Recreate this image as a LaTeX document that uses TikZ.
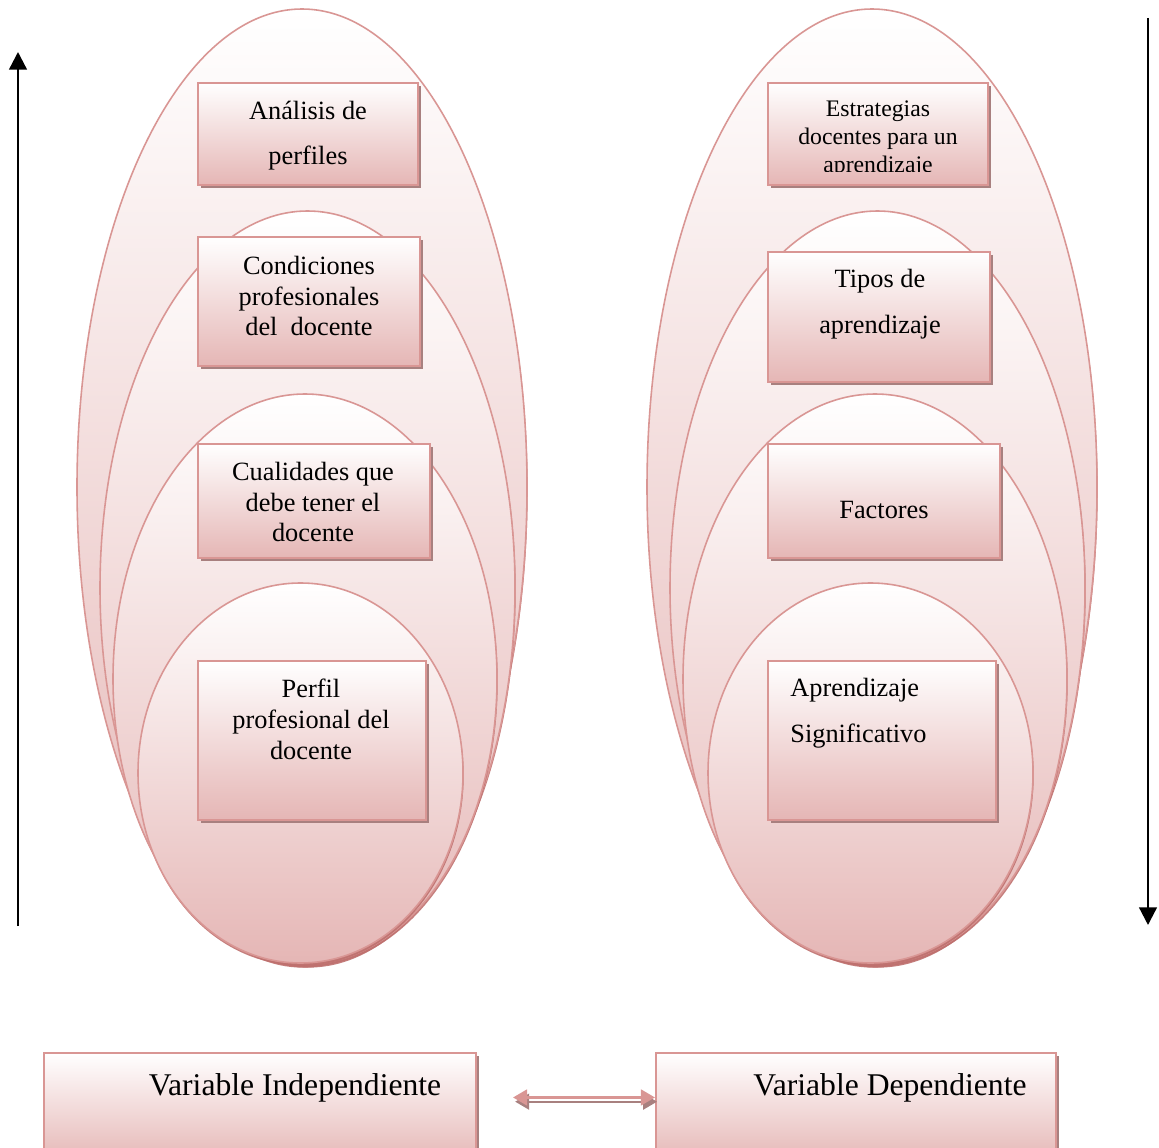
\documentclass[tikz,border=0pt]{standalone}
\usepackage{fontspec}
\setmainfont{Liberation Serif}
\usetikzlibrary{arrows.meta}
\usetikzlibrary{shadows}
\usetikzlibrary{positioning}
\definecolor{rosaborde}{RGB}{217,150,148}
\definecolor{rosafondo}{RGB}{229,182,181}
\definecolor{rosasombra}{RGB}{190,112,110}
\definecolor{grissombra}{RGB}{168,128,127}

\begin{document}
\begin{tikzpicture}[x=0.02cm,y=-0.02cm,
		ovalo/.style={draw=rosaborde,line width=0.9pt,top color=white,bottom color=rosafondo,
			drop shadow={shadow xshift=0.4pt,shadow yshift=-1.5pt,fill=rosasombra,opacity=0.9}},
		caja/.style={rectangle,draw=rosaborde,line width=1.2pt,top color=white,bottom color=rosafondo,inner sep=0pt,
			drop shadow={shadow xshift=1.7pt,shadow yshift=-1.7pt,fill=grissombra,opacity=1}},
		tam/.style 2 args={minimum width=#1*0.02cm,minimum height=#2*0.02cm},
		texto/.style={align=center,inner sep=0pt,font=\fontsize{15}{17.6}\selectfont},
		textodoble/.style={align=center,inner sep=0pt,font=\fontsize{15}{26}\selectfont},
		textochico/.style={align=center,inner sep=0pt,font=\fontsize{13.5}{16}\selectfont},
		textogrande/.style={inner sep=0pt,font=\fontsize{18}{21}\selectfont},
		flechanegra/.style={line width=1.3pt,-{Triangle[width=10pt,length=10pt]}},
		flecharosa/.style={draw=rosaborde,line width=1.3pt,{Triangle[width=9pt,length=8pt]}-{Triangle[width=9pt,length=8pt]}}]
	\useasboundingbox (0,0) rectangle (1159,1148);
	\foreach \dx in {0,570}
		\foreach \cx/\cy/\rx/\ry in {302/487/225/478,307.5/588/207.5/377,305/679/192/285,300.5/773/162.5/190}
			\draw[ovalo] (\cx+\dx,\cy) ellipse [x radius=\rx, y radius=\ry];
	\node[caja,tam={220}{102}] (c1) at (308,134) {};
	\node[caja,tam={222}{129}] (c2) at (309,301.5) {};
	\node[caja,tam={232}{114}] (c3) at (314,501) {};
	\node[caja,tam={228}{159}] (c4) at (312,740.5) {};
	\node[caja,tam={220}{102}] (c5) at (878,134) {};
	\node[caja,tam={222}{130}] (c6) at (879,317) {};
	\node[caja,tam={232}{114}] (c7) at (884,501) {};
	\node[caja,tam={228}{159}] (c8) at (882,740.5) {};
	\node[caja,tam={432}{110}] (vi) at (260,1108) {};
	\node[caja,tam={400}{110}] (vd) at (856,1108) {};
	\node[textodoble] (t1) at (308,135.5) {Análisis de\\perfiles};
	\node[texto] (t2) at (309,296) {Condiciones\\profesionales\\del\ \ docente};
	\node[texto] (t3) at (313,502) {Cualidades que\\debe tener el\\docente};
	\node[texto] (t4) at (311,719) {Perfil\\profesional del\\docente};
	\begin{scope}
		\clip (770,85) rectangle (986,172);
		\node[textochico] (t5) at (878,139) {Estrategias\\docentes para un\\aprendizaje};
	\end{scope}
	\node[textodoble] (t6) at (880,304) {Tipos de\\aprendizaje};
	\node[texto] (t7) at (884,510) {Factores};
	\node[textodoble,align=left,anchor=west] (t8) at (790,713) {Aprendizaje\\Significativo};
	\node[textogrande] (t9) at (295,1088) {Variable Independiente};
	\node[textogrande] (t10) at (890,1088) {Variable Dependiente};
	\coordinate (izqabajo) at (18,926);
	\coordinate (izqarriba) at (18,52);
	\coordinate (derarriba) at (1148,18);
	\coordinate (derabajo) at (1148,925);
	\draw[flechanegra] (izqabajo) -- (izqarriba);
	\draw[flechanegra] (derarriba) -- (derabajo);
	\draw[flecharosa,draw=grissombra,transform canvas={shift={(1.2pt,-2.4pt)}}] ([xshift=0.72cm,yshift=6pt]vi.east) -- ([yshift=6pt]vd.west);
	\draw[flecharosa] ([xshift=0.72cm,yshift=6pt]vi.east) -- ([yshift=6pt]vd.west);
\end{tikzpicture}
\end{document}
